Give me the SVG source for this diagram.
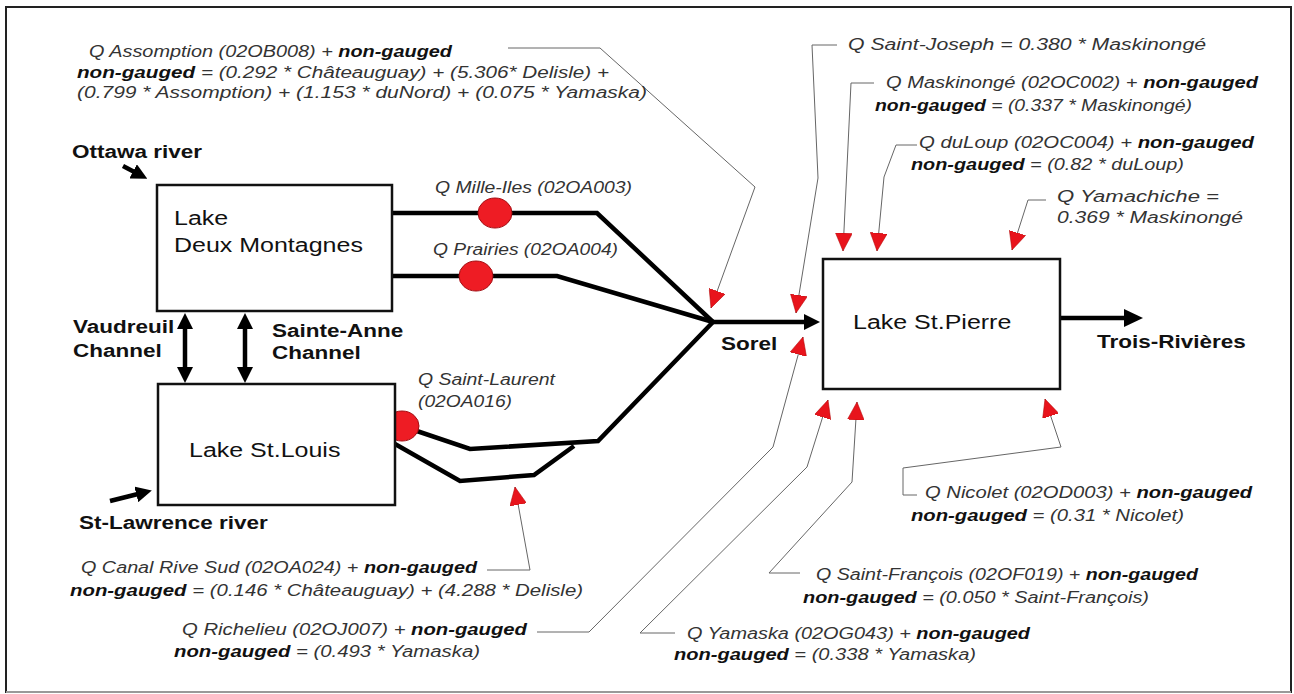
<svg xmlns="http://www.w3.org/2000/svg" width="1294" height="694" viewBox="0 0 1294 694">
<defs>
<style>
.frame{fill:#fff;stroke:#222;stroke-width:2}
.box{fill:#fff;stroke:#111;stroke-width:2.5}
.flow{fill:none;stroke:#000;stroke-width:4.5;stroke-linejoin:miter}
.leader{fill:none;stroke:#666;stroke-width:1}
.gauge{fill:#ee1c24;stroke:#a30d12;stroke-width:1}
.it{font-family:"Liberation Sans",Arial,sans-serif;font-style:italic;font-size:16px;fill:#333}
.ng{font-weight:bold;fill:#111}
.lbl{font-family:"Liberation Sans",Arial,sans-serif;font-weight:bold;font-size:18px;fill:#111}
.lake{font-family:"Liberation Sans",Arial,sans-serif;font-size:20px;fill:#111}
</style>
<marker id="red" markerUnits="userSpaceOnUse" markerWidth="18" markerHeight="17" refX="18" refY="8.5" orient="auto" viewBox="0 0 18 17">
<path d="M0,0 L18,8.5 L0,17 Z" fill="#e8141c" stroke="#b00000" stroke-width="0.5"/>
</marker>
<marker id="blk" markerUnits="userSpaceOnUse" markerWidth="16" markerHeight="16" refX="10" refY="8" orient="auto-start-reverse" viewBox="0 0 16 16">
<path d="M0,0 L16,8 L0,16 Z" fill="#000"/>
</marker>
<marker id="blkL" markerUnits="userSpaceOnUse" markerWidth="19" markerHeight="18" refX="12" refY="9" orient="auto" viewBox="0 0 19 18">
<path d="M0,0 L19,9 L0,18 Z" fill="#000"/>
</marker>
</defs>

<rect class="frame" x="6" y="7" width="1285" height="685"/>
<line x1="6" y1="692" x2="1291" y2="692" stroke="#999" stroke-width="2"/>

<g id="connectors">
<path class="flow" d="M392,213 L597,213 L713,322"/>
<path class="flow" d="M392,276 L557,276 L713,322"/>
<path class="flow" d="M402,426 L470,449 L598,441 L713,322"/>
<path class="flow" d="M395,444 L460,481 L534,475 L574,446"/>
<path class="flow" d="M713,322 L814,322" marker-end="url(#blk)"/>
<path class="flow" d="M1060,318 L1136,318" marker-end="url(#blkL)"/>
<path class="flow" d="M123,166 L142,176" marker-end="url(#blk)"/>
<path class="flow" d="M110,501 L146,492" marker-end="url(#blk)"/>
<path class="flow" d="M185,319 L185,377" marker-start="url(#blk)" marker-end="url(#blk)"/>
<path class="flow" d="M245,319 L245,377" marker-start="url(#blk)" marker-end="url(#blk)"/>
<ellipse class="gauge" cx="495" cy="213" rx="17" ry="15"/>
<ellipse class="gauge" cx="476" cy="276" rx="17" ry="15"/>
<ellipse class="gauge" cx="402" cy="426" rx="17" ry="15"/>
<path class="leader" d="M508,48 L600,48 L755,187 L711,308" marker-end="url(#red)"/>
<path class="leader" d="M837,45 L812,45 L818,178 L796,313" marker-end="url(#red)"/>
<path class="leader" d="M874,83 L851,83 L843,251" marker-end="url(#red)"/>
<path class="leader" d="M917,145 L896,145 L884,177 L877,251" marker-end="url(#red)"/>
<path class="leader" d="M1046,200 L1028,200 L1012,250" marker-end="url(#red)"/>
<path class="leader" d="M537,632 L589,632 L773,447 L803,337" marker-end="url(#red)"/>
<path class="leader" d="M675,633 L640,633 L807,467 L828,400" marker-end="url(#red)"/>
<path class="leader" d="M800,573 L769,573 L852,482 L857,402" marker-end="url(#red)"/>
<path class="leader" d="M917,495 L903,495 L903,468 L1061,447 L1045,399" marker-end="url(#red)"/>
<path class="leader" d="M487,570 L530,570 L515,487" marker-end="url(#red)"/>
</g>

<g id="lake-deux-montagnes">
<rect class="box" x="157" y="185" width="235" height="126"/>
<text class="lake" transform="translate(174,225) scale(1.25,1)">Lake</text>
<text class="lake" transform="translate(174,252) scale(1.25,1)">Deux Montagnes</text>
</g>
<g id="lake-st-louis">
<rect class="box" x="158" y="384" width="237" height="121"/>
<text class="lake" transform="translate(189,457) scale(1.25,1)">Lake St.Louis</text>
</g>
<g id="lake-st-pierre">
<rect class="box" x="823" y="259" width="237" height="130"/>
<text class="lake" transform="translate(853,329) scale(1.25,1)">Lake St.Pierre</text>
</g>

<g id="labels">
<text class="lbl" transform="translate(72,158) scale(1.25,1)">Ottawa river</text>
<text class="lbl" transform="translate(73,333) scale(1.25,1)">Vaudreuil</text>
<text class="lbl" transform="translate(73,357) scale(1.25,1)">Channel</text>
<text class="lbl" transform="translate(272,337) scale(1.25,1)">Sainte-Anne</text>
<text class="lbl" transform="translate(272,359) scale(1.25,1)">Channel</text>
<text class="lbl" transform="translate(79,529) scale(1.25,1)">St-Lawrence river</text>
<text class="lbl" transform="translate(721,350) scale(1.25,1)">Sorel</text>
<text class="lbl" transform="translate(1097,348) scale(1.25,1)">Trois-Rivières</text>
</g>

<g id="gauge-labels">
<text class="it" x="435" y="193" textLength="197" lengthAdjust="spacingAndGlyphs">Q Mille-Iles (02OA003)</text>
<text class="it" x="433" y="255" textLength="185" lengthAdjust="spacingAndGlyphs">Q Prairies (02OA004)</text>
<text class="it" x="418" y="385" textLength="137" lengthAdjust="spacingAndGlyphs">Q Saint-Laurent</text>
<text class="it" x="418" y="407" textLength="94" lengthAdjust="spacingAndGlyphs">(02OA016)</text>
</g>

<g id="assomption">
<text class="it" x="89" y="57" textLength="363" lengthAdjust="spacingAndGlyphs">Q Assomption (02OB008) + <tspan class="ng">non-gauged</tspan></text>
<text class="it" x="77" y="78" textLength="532" lengthAdjust="spacingAndGlyphs"><tspan class="ng">non-gauged</tspan> = (0.292 * Châteauguay) + (5.306* Delisle) +</text>
<text class="it" x="77" y="98" textLength="570" lengthAdjust="spacingAndGlyphs">(0.799 * Assomption) + (1.153 * duNord) + (0.075 * Yamaska)</text>
</g>
<g id="saint-joseph">
<text class="it" x="848" y="50" textLength="358" lengthAdjust="spacingAndGlyphs">Q Saint-Joseph = 0.380 * Maskinongé</text>
</g>
<g id="maskinonge">
<text class="it" x="886" y="88" textLength="372" lengthAdjust="spacingAndGlyphs">Q Maskinongé (02OC002) + <tspan class="ng">non-gauged</tspan></text>
<text class="it" x="875" y="111" textLength="317" lengthAdjust="spacingAndGlyphs"><tspan class="ng">non-gauged</tspan> = (0.337 * Maskinongé)</text>
</g>
<g id="duloup">
<text class="it" x="919" y="148" textLength="335" lengthAdjust="spacingAndGlyphs">Q duLoup (02OC004) + <tspan class="ng">non-gauged</tspan></text>
<text class="it" x="911" y="170" textLength="273" lengthAdjust="spacingAndGlyphs"><tspan class="ng">non-gauged</tspan> = (0.82 * duLoup)</text>
</g>
<g id="yamachiche">
<text class="it" x="1057" y="202" textLength="162" lengthAdjust="spacingAndGlyphs">Q Yamachiche =</text>
<text class="it" x="1057" y="223" textLength="186" lengthAdjust="spacingAndGlyphs">0.369 * Maskinongé</text>
</g>
<g id="nicolet">
<text class="it" x="925" y="498" textLength="327" lengthAdjust="spacingAndGlyphs">Q Nicolet (02OD003) + <tspan class="ng">non-gauged</tspan></text>
<text class="it" x="911" y="521" textLength="273" lengthAdjust="spacingAndGlyphs"><tspan class="ng">non-gauged</tspan> = (0.31 * Nicolet)</text>
</g>
<g id="saint-francois">
<text class="it" x="816" y="580" textLength="382" lengthAdjust="spacingAndGlyphs">Q Saint-François (02OF019) + <tspan class="ng">non-gauged</tspan></text>
<text class="it" x="803" y="603" textLength="346" lengthAdjust="spacingAndGlyphs"><tspan class="ng">non-gauged</tspan> = (0.050 * Saint-François)</text>
</g>
<g id="yamaska">
<text class="it" x="687" y="639" textLength="343" lengthAdjust="spacingAndGlyphs">Q Yamaska (02OG043) + <tspan class="ng">non-gauged</tspan></text>
<text class="it" x="674" y="660" textLength="302" lengthAdjust="spacingAndGlyphs"><tspan class="ng">non-gauged</tspan> = (0.338 * Yamaska)</text>
</g>
<g id="canal-rive-sud">
<text class="it" x="81" y="573" textLength="396" lengthAdjust="spacingAndGlyphs">Q Canal Rive Sud (02OA024) + <tspan class="ng">non-gauged</tspan></text>
<text class="it" x="70" y="596" textLength="513" lengthAdjust="spacingAndGlyphs"><tspan class="ng">non-gauged</tspan> = (0.146 * Châteauguay) + (4.288 * Delisle)</text>
</g>
<g id="richelieu">
<text class="it" x="182" y="635" textLength="345" lengthAdjust="spacingAndGlyphs">Q Richelieu (02OJ007) + <tspan class="ng">non-gauged</tspan></text>
<text class="it" x="174" y="657" textLength="306" lengthAdjust="spacingAndGlyphs"><tspan class="ng">non-gauged</tspan> = (0.493 * Yamaska)</text>
</g>
</svg>
